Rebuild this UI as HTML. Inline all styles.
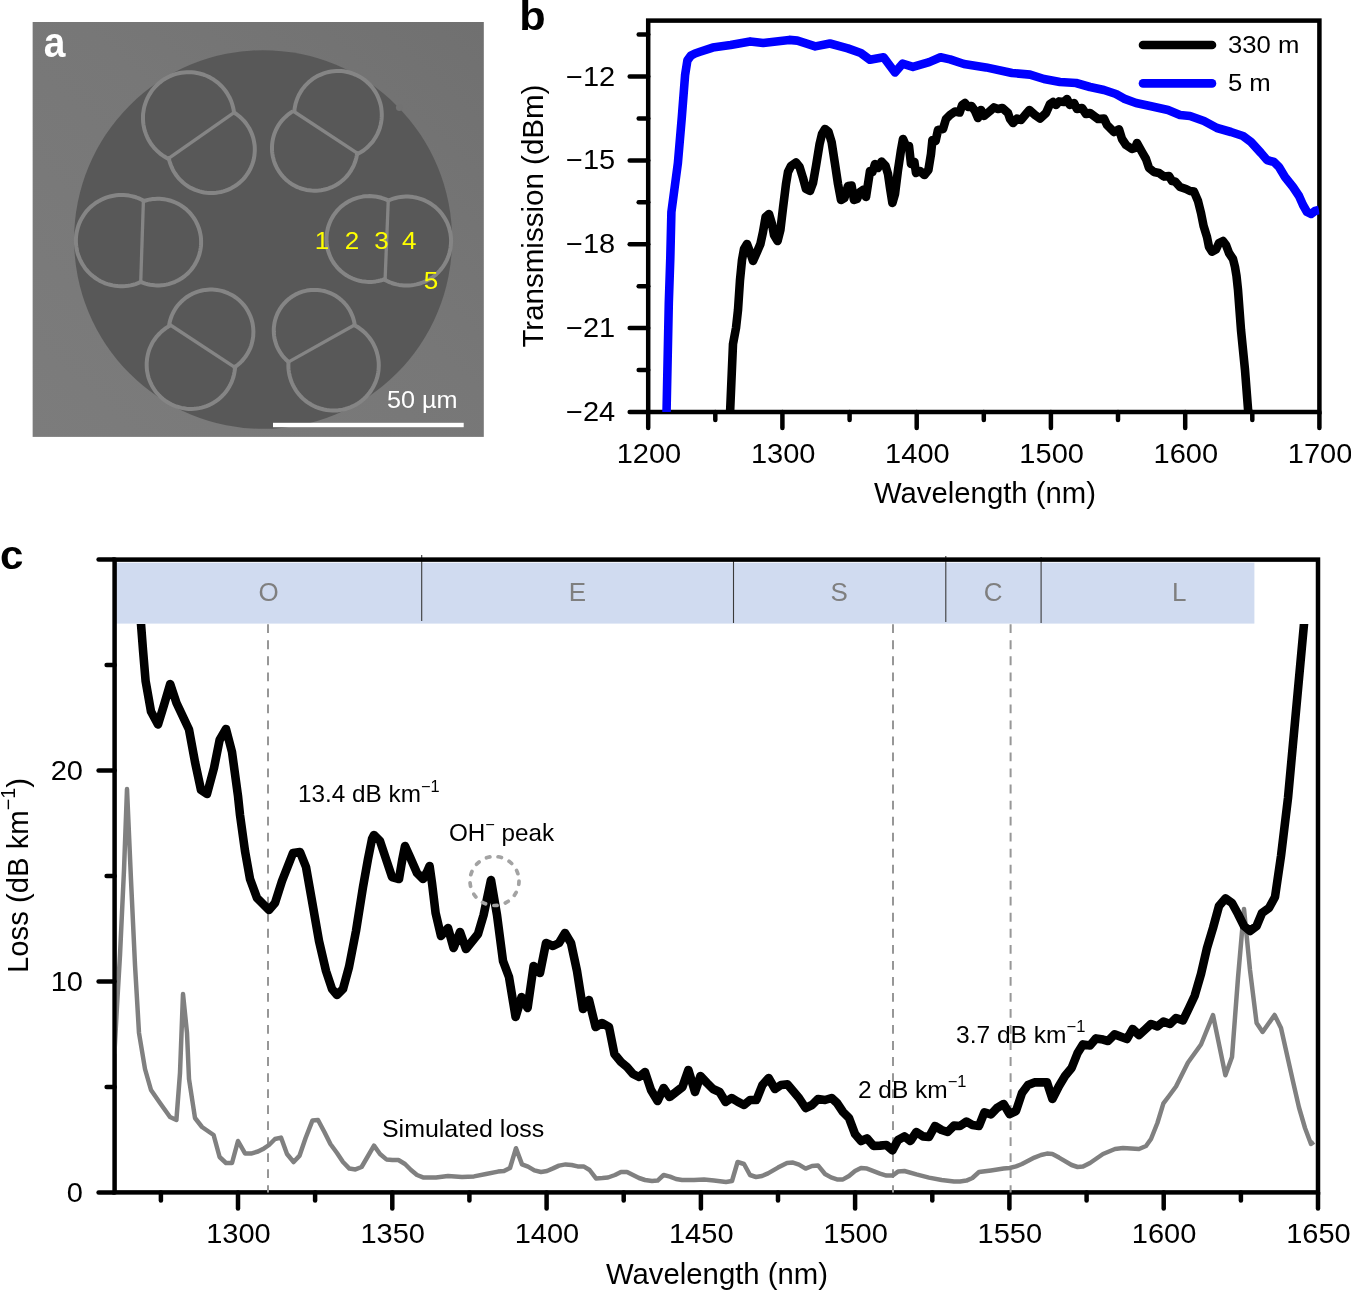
<!DOCTYPE html>
<html lang="en"><head><meta charset="utf-8"><title>Figure</title>
<style>
html,body{margin:0;padding:0;background:#fff;}
svg{display:block;}
text{font-family:"Liberation Sans", sans-serif;}
</style></head><body>
<svg width="1351" height="1291" viewBox="0 0 1351 1291">
<rect x="0" y="0" width="1351" height="1291" fill="#ffffff"/>

<defs><clipPath id="clipA"><rect x="32.4" y="22" width="451.5" height="414.9"/></clipPath>
<clipPath id="clipC"><rect x="116.9" y="624" width="1201.1" height="568.4"/></clipPath>
<clipPath id="clipB"><rect x="648.2" y="20.6" width="671.2" height="391.4"/></clipPath>
<linearGradient id="bgA" x1="0" y1="1" x2="1" y2="0"><stop offset="0" stop-color="#7c7c7c"/><stop offset="0.55" stop-color="#777777"/><stop offset="1" stop-color="#707070"/></linearGradient>
</defs>
<g clip-path="url(#clipA)">
<rect x="32.4" y="22" width="451.5" height="414.9" fill="url(#bgA)"/>
<ellipse cx="263.1" cy="239.5" rx="189" ry="189.3" fill="#585858"/>
<polyline points="169.0,158.1 168.6,158.9 166.3,157.7 164.0,156.3 161.9,154.9 159.8,153.3 157.8,151.6 155.9,149.7 154.1,147.8 152.5,145.8 150.9,143.7 149.5,141.4 148.2,139.2 147.1,136.8 146.1,134.4 145.2,131.9 144.4,129.4 143.9,126.9 143.4,124.3 143.1,121.7 143.0,119.0 143.0,116.4 143.1,113.8 143.5,111.2 143.9,108.6 144.5,106.1 145.3,103.6 146.2,101.1 147.2,98.7 148.4,96.3 149.7,94.1 151.1,91.9 152.6,89.7 154.3,87.7 156.1,85.8 158.0,84.0 160.0,82.3 162.1,80.7 164.3,79.2 166.5,77.9 168.8,76.7 171.2,75.6 173.7,74.7 176.2,73.9 178.7,73.3 181.3,72.8 183.9,72.4 186.5,72.2 189.1,72.2 191.8,72.3 194.4,72.5 197.0,73.0 199.5,73.5 202.1,74.2 204.5,75.0 207.0,76.0 209.3,77.1 211.6,78.4 213.9,79.8 216.0,81.3 218.1,82.9 220.0,84.7 221.9,86.5 223.6,88.5 225.2,90.5 226.8,92.7 228.1,94.9 229.4,97.2 230.5,99.6 231.5,102.0 232.3,104.5 233.0,107.0 233.6,109.6 234.0,112.2 234.7,112.1" fill="none" stroke="#858585" stroke-width="4" stroke-linejoin="round"/>
<polyline points="169.0,158.1 168.8,158.1 169.3,160.5 170.0,162.8 170.8,165.0 171.7,167.2 172.7,169.4 173.8,171.5 175.1,173.5 176.5,175.5 177.9,177.3 179.5,179.1 181.2,180.8 183.0,182.5 184.8,184.0 186.7,185.4 188.7,186.7 190.8,187.9 192.9,188.9 195.1,189.9 197.4,190.7 199.6,191.4 202.0,192.0 204.3,192.5 206.7,192.8 209.0,193.0 211.4,193.0 213.8,193.0 216.2,192.8 218.6,192.4 220.9,192.0 223.2,191.4 225.5,190.7 227.7,189.8 229.9,188.9 232.0,187.8 234.1,186.6 236.1,185.3 238.0,183.9 239.9,182.4 241.6,180.8 243.3,179.1 244.9,177.3 246.3,175.4 247.7,173.4 249.0,171.4 250.1,169.3 251.1,167.1 252.0,164.9 252.8,162.7 253.5,160.4 254.0,158.0 254.4,155.7 254.6,153.3 254.8,150.9 254.8,148.5 254.7,146.1 254.4,143.8 254.0,141.4 253.5,139.1 252.9,136.8 252.1,134.5 251.2,132.3 250.2,130.2 249.1,128.0 247.8,126.0 246.5,124.0 245.0,122.1 243.5,120.3 241.8,118.6 240.1,117.0 238.2,115.5 236.3,114.0 234.3,112.7 234.7,112.1" fill="none" stroke="#858585" stroke-width="4" stroke-linejoin="round"/>
<line x1="169.0" y1="158.1" x2="234.7" y2="112.1" stroke="#858585" stroke-width="3.3"/>
<polyline points="293.1,111.0 294.4,111.1 294.6,108.6 295.1,106.1 295.6,103.6 296.4,101.2 297.2,98.8 298.2,96.5 299.3,94.2 300.6,92.0 301.9,89.9 303.4,87.9 305.0,85.9 306.8,84.1 308.6,82.3 310.5,80.7 312.5,79.1 314.6,77.7 316.8,76.4 319.0,75.3 321.4,74.3 323.7,73.4 326.1,72.6 328.6,72.0 331.1,71.5 333.6,71.2 336.1,71.0 338.6,71.0 341.2,71.1 343.7,71.3 346.2,71.7 348.6,72.3 351.1,73.0 353.5,73.8 355.8,74.8 358.1,75.9 360.3,77.1 362.4,78.4 364.5,79.9 366.5,81.5 368.3,83.2 370.1,85.0 371.8,86.9 373.3,88.9 374.8,91.0 376.1,93.1 377.3,95.4 378.3,97.7 379.2,100.0 380.0,102.4 380.7,104.9 381.2,107.4 381.5,109.9 381.7,112.4 381.8,114.9 381.7,117.4 381.5,120.0 381.1,122.5 380.6,124.9 380.0,127.4 379.2,129.8 378.2,132.1 377.2,134.4 376.0,136.6 374.6,138.8 373.2,140.9 371.6,142.9 369.9,144.7 368.2,146.5 366.3,148.2 364.3,149.8 362.2,151.3 360.1,152.6 357.9,153.8 357.6,153.3" fill="none" stroke="#858585" stroke-width="4" stroke-linejoin="round"/>
<polyline points="293.1,111.0 293.2,111.1 291.1,112.4 289.1,113.8 287.3,115.3 285.5,116.9 283.7,118.6 282.1,120.3 280.6,122.2 279.2,124.2 277.9,126.2 276.8,128.3 275.7,130.5 274.8,132.7 274.0,135.0 273.3,137.3 272.8,139.7 272.4,142.0 272.1,144.4 272.0,146.8 272.0,149.2 272.1,151.7 272.4,154.0 272.8,156.4 273.4,158.8 274.0,161.1 274.8,163.4 275.8,165.6 276.8,167.7 278.0,169.8 279.3,171.9 280.7,173.8 282.2,175.7 283.8,177.5 285.5,179.2 287.3,180.8 289.2,182.3 291.2,183.7 293.3,184.9 295.4,186.1 297.5,187.1 299.8,188.0 302.1,188.8 304.4,189.4 306.7,190.0 309.1,190.3 311.5,190.6 313.9,190.7 316.3,190.7 318.7,190.5 321.1,190.2 323.5,189.8 325.8,189.2 328.1,188.6 330.4,187.7 332.6,186.8 334.8,185.7 336.9,184.5 338.9,183.2 340.8,181.8 342.7,180.3 344.5,178.6 346.2,176.9 347.7,175.1 349.2,173.2 350.6,171.2 351.8,169.1 353.0,167.0 354.0,164.8 354.9,162.6 355.6,160.3 356.3,158.0 356.8,155.6 357.1,153.2 357.6,153.3" fill="none" stroke="#858585" stroke-width="4" stroke-linejoin="round"/>
<line x1="293.1" y1="111.0" x2="357.6" y2="153.3" stroke="#858585" stroke-width="3.3"/>
<polyline points="388.3,199.8 388.6,200.4 390.9,199.5 393.3,198.6 395.7,198.0 398.1,197.4 400.6,197.0 403.1,196.7 405.6,196.6 408.1,196.6 410.7,196.8 413.2,197.1 415.6,197.5 418.1,198.1 420.5,198.8 422.8,199.7 425.2,200.7 427.4,201.8 429.6,203.0 431.7,204.4 433.7,205.8 435.7,207.4 437.5,209.1 439.3,210.9 440.9,212.8 442.5,214.8 443.9,216.9 445.2,219.0 446.4,221.2 447.5,223.5 448.4,225.9 449.2,228.2 449.8,230.7 450.4,233.1 450.7,235.6 451.0,238.1 451.1,240.6 451.0,243.1 450.8,245.6 450.5,248.1 450.0,250.6 449.4,253.0 448.7,255.4 447.8,257.8 446.8,260.1 445.7,262.3 444.4,264.5 443.0,266.6 441.5,268.6 439.9,270.5 438.2,272.4 436.4,274.1 434.5,275.7 432.5,277.3 430.4,278.7 428.2,279.9 426.0,281.1 423.7,282.1 421.3,283.0 418.9,283.8 416.5,284.4 414.0,284.9 411.6,285.3 409.1,285.5 406.5,285.5 404.0,285.5 401.5,285.2 399.0,284.9 396.6,284.4 394.1,283.8 391.8,283.0 389.4,282.1 387.1,281.0 384.9,279.9 385.1,279.5" fill="none" stroke="#858585" stroke-width="4" stroke-linejoin="round"/>
<polyline points="388.3,199.8 388.0,200.4 385.9,199.4 383.7,198.6 381.4,197.8 379.1,197.2 376.8,196.8 374.5,196.4 372.1,196.2 369.8,196.1 367.4,196.2 365.1,196.3 362.7,196.6 360.4,197.1 358.1,197.6 355.8,198.3 353.6,199.1 351.5,200.0 349.3,201.1 347.3,202.2 345.3,203.5 343.4,204.9 341.5,206.3 339.8,207.9 338.1,209.6 336.5,211.4 335.1,213.2 333.7,215.1 332.5,217.1 331.3,219.2 330.3,221.3 329.4,223.5 328.6,225.7 327.9,228.0 327.4,230.3 326.9,232.6 326.7,234.9 326.5,237.3 326.5,239.7 326.6,242.0 326.8,244.4 327.2,246.7 327.6,249.0 328.3,251.3 329.0,253.5 329.9,255.7 330.8,257.9 331.9,260.0 333.1,262.0 334.5,264.0 335.9,265.8 337.4,267.6 339.0,269.3 340.8,271.0 342.6,272.5 344.4,273.9 346.4,275.2 348.4,276.4 350.5,277.5 352.7,278.5 354.9,279.4 357.1,280.1 359.4,280.7 361.7,281.2 364.0,281.6 366.4,281.8 368.7,281.9 371.1,281.9 373.5,281.7 375.8,281.4 378.1,281.0 380.4,280.5 382.7,279.8 384.9,279.0 385.1,279.5" fill="none" stroke="#858585" stroke-width="4" stroke-linejoin="round"/>
<line x1="388.3" y1="199.8" x2="385.1" y2="279.5" stroke="#858585" stroke-width="3.3"/>
<polyline points="355.4,324.5 354.9,325.5 357.2,326.8 359.5,328.3 361.6,329.9 363.7,331.6 365.7,333.5 367.5,335.5 369.2,337.5 370.8,339.7 372.3,342.0 373.6,344.3 374.8,346.8 375.8,349.3 376.7,351.8 377.4,354.4 378.0,357.0 378.4,359.7 378.7,362.4 378.8,365.1 378.7,367.8 378.5,370.5 378.1,373.1 377.6,375.8 376.9,378.4 376.0,380.9 375.0,383.4 373.8,385.9 372.5,388.3 371.1,390.5 369.5,392.7 367.8,394.8 366.0,396.8 364.1,398.7 362.0,400.5 359.9,402.1 357.6,403.6 355.3,405.0 352.9,406.2 350.4,407.3 347.9,408.2 345.3,409.0 342.7,409.6 340.0,410.1 337.4,410.4 334.7,410.5 332.0,410.5 329.3,410.3 326.6,410.0 324.0,409.5 321.3,408.8 318.8,408.0 316.2,407.1 313.8,406.0 311.4,404.7 309.1,403.3 306.9,401.8 304.7,400.1 302.7,398.4 300.8,396.5 299.0,394.4 297.3,392.3 295.8,390.1 294.4,387.8 293.1,385.4 292.0,383.0 291.0,380.5 290.2,377.9 289.5,375.3 289.0,372.6 288.6,370.0 288.4,367.3 288.4,364.6 288.5,361.9 288.7,361.9" fill="none" stroke="#858585" stroke-width="4" stroke-linejoin="round"/>
<polyline points="355.4,324.5 354.7,324.6 354.3,322.4 353.8,320.3 353.2,318.2 352.5,316.1 351.6,314.1 350.7,312.1 349.7,310.2 348.5,308.3 347.3,306.5 345.9,304.8 344.5,303.2 343.0,301.6 341.4,300.1 339.7,298.7 337.9,297.4 336.1,296.1 334.2,295.0 332.3,294.0 330.3,293.1 328.3,292.3 326.2,291.6 324.1,291.0 321.9,290.6 319.8,290.2 317.6,290.0 315.4,289.9 313.2,289.9 311.0,290.0 308.8,290.3 306.7,290.6 304.5,291.1 302.4,291.7 300.4,292.4 298.3,293.2 296.3,294.1 294.4,295.2 292.5,296.3 290.7,297.5 289.0,298.8 287.3,300.3 285.7,301.8 284.2,303.4 282.8,305.0 281.4,306.8 280.2,308.6 279.1,310.5 278.0,312.4 277.1,314.4 276.3,316.4 275.6,318.5 275.0,320.6 274.5,322.7 274.2,324.9 273.9,327.1 273.8,329.2 273.8,331.4 273.9,333.6 274.1,335.8 274.4,338.0 274.9,340.1 275.5,342.2 276.2,344.3 276.9,346.3 277.9,348.3 278.9,350.3 280.0,352.2 281.2,354.0 282.5,355.7 283.9,357.4 285.4,359.0 287.0,360.6 288.6,362.0 288.7,361.9" fill="none" stroke="#858585" stroke-width="4" stroke-linejoin="round"/>
<line x1="355.4" y1="324.5" x2="288.7" y2="361.9" stroke="#858585" stroke-width="3.3"/>
<polyline points="169.6,324.5 170.2,325.6 167.9,326.8 165.8,328.2 163.7,329.8 161.7,331.4 159.9,333.1 158.1,335.0 156.4,336.9 154.9,339.0 153.4,341.1 152.1,343.3 151.0,345.6 149.9,348.0 149.0,350.4 148.3,352.8 147.7,355.3 147.2,357.8 146.9,360.4 146.7,362.9 146.7,365.5 146.8,368.1 147.0,370.6 147.5,373.1 148.0,375.6 148.7,378.1 149.6,380.5 150.6,382.9 151.7,385.2 153.0,387.4 154.3,389.6 155.8,391.7 157.5,393.7 159.2,395.5 161.0,397.3 163.0,399.0 165.0,400.6 167.2,402.0 169.4,403.3 171.6,404.5 174.0,405.6 176.4,406.5 178.8,407.2 181.3,407.9 183.8,408.3 186.4,408.7 188.9,408.9 191.5,408.9 194.1,408.8 196.6,408.5 199.1,408.1 201.7,407.6 204.1,406.9 206.5,406.1 208.9,405.1 211.2,404.0 213.5,402.7 215.6,401.3 217.7,399.9 219.7,398.2 221.6,396.5 223.4,394.7 225.1,392.7 226.7,390.7 228.1,388.6 229.4,386.4 230.6,384.1 231.7,381.8 232.6,379.4 233.4,377.0 234.0,374.5 234.5,371.9 234.9,369.4 235.1,366.8 234.1,366.8" fill="none" stroke="#858585" stroke-width="4" stroke-linejoin="round"/>
<polyline points="169.6,324.5 169.2,324.4 169.7,322.1 170.3,319.9 171.0,317.7 171.8,315.5 172.8,313.4 173.9,311.3 175.1,309.3 176.3,307.4 177.7,305.5 179.2,303.8 180.8,302.1 182.5,300.5 184.3,299.0 186.1,297.5 188.1,296.2 190.1,295.0 192.1,293.9 194.2,293.0 196.4,292.1 198.6,291.4 200.8,290.8 203.1,290.3 205.4,289.9 207.7,289.7 210.0,289.5 212.4,289.6 214.7,289.7 217.0,290.0 219.3,290.4 221.6,290.9 223.8,291.5 226.0,292.3 228.1,293.2 230.2,294.2 232.3,295.3 234.3,296.5 236.2,297.8 238.0,299.3 239.8,300.8 241.4,302.4 243.0,304.1 244.5,305.9 245.9,307.8 247.1,309.8 248.3,311.8 249.3,313.9 250.3,316.0 251.1,318.2 251.8,320.4 252.4,322.6 252.8,324.9 253.1,327.2 253.3,329.5 253.4,331.9 253.3,334.2 253.2,336.5 252.8,338.8 252.4,341.1 251.8,343.4 251.2,345.6 250.4,347.8 249.4,349.9 248.4,352.0 247.2,354.0 246.0,356.0 244.6,357.8 243.1,359.6 241.6,361.4 239.9,363.0 238.2,364.5 236.3,366.0 234.4,367.3 234.1,366.8" fill="none" stroke="#858585" stroke-width="4" stroke-linejoin="round"/>
<line x1="169.6" y1="324.5" x2="234.1" y2="366.8" stroke="#858585" stroke-width="3.3"/>
<polyline points="143.4,200.9 143.5,200.6 141.3,199.5 138.9,198.4 136.5,197.5 134.0,196.7 131.5,196.1 129.0,195.6 126.4,195.2 123.9,195.0 121.3,195.0 118.7,195.1 116.1,195.3 113.6,195.7 111.0,196.2 108.5,196.9 106.1,197.7 103.7,198.6 101.3,199.7 99.1,200.9 96.9,202.2 94.7,203.7 92.7,205.3 90.7,206.9 88.9,208.7 87.1,210.6 85.5,212.6 84.0,214.7 82.6,216.9 81.3,219.1 80.1,221.4 79.1,223.8 78.2,226.2 77.5,228.7 76.9,231.2 76.4,233.7 76.1,236.3 75.9,238.9 75.9,241.5 76.0,244.0 76.3,246.6 76.7,249.2 77.2,251.7 77.9,254.2 78.8,256.6 79.8,259.0 80.9,261.3 82.1,263.6 83.5,265.8 84.9,267.9 86.5,269.9 88.2,271.9 90.1,273.7 92.0,275.4 94.0,277.0 96.1,278.5 98.3,279.9 100.5,281.2 102.9,282.3 105.2,283.3 107.7,284.1 110.2,284.8 112.7,285.4 115.2,285.8 117.8,286.1 120.4,286.3 122.9,286.3 125.5,286.1 128.1,285.8 130.6,285.4 133.1,284.8 135.6,284.1 138.0,283.2 140.4,282.2 140.7,282.8" fill="none" stroke="#858585" stroke-width="4" stroke-linejoin="round"/>
<polyline points="143.4,200.9 143.5,201.2 145.7,200.5 148.0,199.9 150.3,199.4 152.6,199.1 154.9,198.9 157.2,198.8 159.6,198.8 161.9,199.0 164.2,199.2 166.5,199.6 168.8,200.2 171.0,200.8 173.2,201.6 175.4,202.5 177.5,203.5 179.5,204.6 181.5,205.8 183.4,207.1 185.3,208.6 187.0,210.1 188.7,211.7 190.3,213.4 191.8,215.2 193.2,217.1 194.5,219.0 195.7,221.0 196.7,223.1 197.7,225.2 198.6,227.4 199.3,229.6 199.9,231.8 200.4,234.1 200.8,236.4 201.0,238.7 201.1,241.1 201.1,243.4 201.0,245.7 200.7,248.0 200.3,250.3 199.8,252.6 199.2,254.9 198.4,257.1 197.6,259.2 196.6,261.3 195.5,263.4 194.3,265.4 193.0,267.3 191.6,269.2 190.1,271.0 188.5,272.7 186.8,274.3 185.0,275.8 183.2,277.2 181.2,278.5 179.2,279.7 177.2,280.8 175.1,281.8 172.9,282.7 170.7,283.4 168.5,284.1 166.2,284.6 163.9,285.0 161.6,285.2 159.2,285.4 156.9,285.4 154.6,285.3 152.3,285.0 150.0,284.7 147.7,284.2 145.4,283.6 143.2,282.8 141.0,282.0 140.7,282.8" fill="none" stroke="#858585" stroke-width="4" stroke-linejoin="round"/>
<line x1="143.4" y1="200.9" x2="140.7" y2="282.8" stroke="#858585" stroke-width="3.3"/>
<circle cx="399.3" cy="107.6" r="3.4" fill="#727272"/>
</g>
<text transform="translate(43.87,56.60) scale(0.9261,1)" font-size="42" font-weight="bold" fill="#fff">a</text>
<text transform="translate(322.00,248.50) scale(1.05,1)" text-anchor="middle" font-size="24.8" fill="#ffff00">1</text>
<text transform="translate(351.90,248.50) scale(1.05,1)" text-anchor="middle" font-size="24.8" fill="#ffff00">2</text>
<text transform="translate(381.45,248.50) scale(1.05,1)" text-anchor="middle" font-size="24.8" fill="#ffff00">3</text>
<text transform="translate(409.20,248.50) scale(1.05,1)" text-anchor="middle" font-size="24.8" fill="#ffff00">4</text>
<text transform="translate(431.00,289.30) scale(1.05,1)" text-anchor="middle" font-size="24.8" fill="#ffff00">5</text>
<text transform="translate(386.97,407.80) scale(1.0303,1)" font-size="24.5" fill="#fff">50 µm</text>
<rect x="273" y="422.8" width="190.7" height="4.4" fill="#ffffff"/>
<g stroke="#000" stroke-width="4.5" fill="none" stroke-linecap="round">
<line x1="648.2" y1="412" x2="648.2" y2="428"/>
<line x1="782.4" y1="412" x2="782.4" y2="428"/>
<line x1="916.7" y1="412" x2="916.7" y2="428"/>
<line x1="1050.9" y1="412" x2="1050.9" y2="428"/>
<line x1="1185.2" y1="412" x2="1185.2" y2="428"/>
<line x1="1319.4" y1="412" x2="1319.4" y2="428"/>
<line x1="715.3" y1="412" x2="715.3" y2="420"/>
<line x1="849.6" y1="412" x2="849.6" y2="420"/>
<line x1="983.8" y1="412" x2="983.8" y2="420"/>
<line x1="1118.0" y1="412" x2="1118.0" y2="420"/>
<line x1="1252.3" y1="412" x2="1252.3" y2="420"/>
<line x1="648.2" y1="76.5" x2="629.7" y2="76.5"/>
<line x1="648.2" y1="160.4" x2="629.7" y2="160.4"/>
<line x1="648.2" y1="244.3" x2="629.7" y2="244.3"/>
<line x1="648.2" y1="328.1" x2="629.7" y2="328.1"/>
<line x1="648.2" y1="412.0" x2="629.7" y2="412.0"/>
<line x1="648.2" y1="34.6" x2="638.7" y2="34.6"/>
<line x1="648.2" y1="118.4" x2="638.7" y2="118.4"/>
<line x1="648.2" y1="202.3" x2="638.7" y2="202.3"/>
<line x1="648.2" y1="286.2" x2="638.7" y2="286.2"/>
<line x1="648.2" y1="370.1" x2="638.7" y2="370.1"/>
</g>
<rect x="648.2" y="20.6" width="671.2" height="391.4" fill="none" stroke="#000" stroke-width="4.5" stroke-linejoin="miter"/>
<g clip-path="url(#clipB)">
<polyline points="730.0,414.0 733.0,344.0 736.0,328.0 738.0,310.0 740.0,280.0 742.0,260.0 744.0,249.0 747.0,244.0 750.0,252.0 753.0,261.0 757.0,252.0 760.4,244.0 763.0,232.0 765.6,217.0 769.0,214.0 772.0,224.0 774.0,235.0 777.6,241.0 780.4,230.0 783.0,208.0 786.0,184.0 788.0,172.0 791.0,166.0 796.0,162.4 799.6,167.0 803.0,178.0 806.0,189.0 810.0,191.0 813.0,183.0 816.0,166.0 819.6,144.0 822.0,134.0 825.0,129.0 828.4,131.6 831.6,142.0 835.0,164.0 838.0,184.0 841.0,200.0 844.4,198.0 848.0,186.0 851.6,185.6 854.0,200.0 857.0,199.0 860.0,192.0 863.6,189.6 866.0,197.0 868.0,184.0 870.0,171.0 872.4,172.0 875.0,164.0 878.0,168.0 881.6,161.6 885.6,166.0 888.0,174.0 890.0,188.0 892.4,203.0 895.0,194.0 898.0,170.0 901.0,150.0 903.0,139.0 906.0,146.0 909.0,146.0 911.0,164.0 914.4,162.0 916.0,173.0 920.0,171.0 924.4,175.0 928.4,170.0 931.0,154.0 932.4,140.0 935.6,141.0 938.0,130.0 943.0,129.0 946.0,119.0 950.0,115.0 955.0,111.5 959.6,112.5 962.2,105.0 965.0,103.0 968.0,107.0 971.5,106.0 975.0,111.0 978.0,118.0 981.0,110.0 984.0,116.0 990.0,111.0 994.0,107.4 998.0,109.0 1002.4,108.0 1008.0,113.0 1010.0,119.0 1013.0,123.0 1017.0,118.6 1021.0,120.0 1026.0,114.0 1029.4,110.0 1035.0,115.0 1040.0,118.6 1046.0,113.0 1050.0,104.0 1053.0,102.0 1056.0,105.0 1059.0,101.4 1064.0,102.0 1067.0,99.0 1070.0,105.0 1074.0,103.0 1077.0,109.0 1082.0,108.0 1086.0,114.0 1090.0,113.0 1098.0,119.0 1104.0,118.6 1107.0,125.0 1114.0,132.0 1119.0,129.4 1122.0,139.0 1126.0,145.0 1132.0,149.0 1135.0,148.0 1137.0,143.0 1142.0,152.0 1146.0,159.0 1149.0,168.0 1154.0,172.0 1159.0,173.0 1164.0,176.6 1169.0,176.0 1172.0,181.0 1175.0,181.4 1180.0,187.0 1186.0,189.0 1190.0,191.0 1194.0,191.6 1198.0,201.0 1201.0,213.0 1203.6,226.0 1207.0,237.0 1209.0,247.0 1212.0,251.6 1216.0,249.5 1219.0,243.0 1223.0,241.0 1226.0,245.0 1229.0,253.0 1233.0,259.0 1235.0,267.0 1236.5,276.0 1238.0,290.0 1241.0,330.0 1245.0,370.0 1248.4,414.0" fill="none" stroke="#000" stroke-width="8.6" stroke-linejoin="round" stroke-linecap="butt"/>
<polyline points="666.5,414.0 668.8,303.0 670.3,258.0 671.4,212.0 677.9,163.0 681.8,117.4 685.1,75.0 687.4,60.4 690.9,55.6 695.0,53.5 700.0,51.8 712.7,47.6 730.6,45.1 750.2,41.4 763.2,42.9 789.2,39.9 797.4,40.6 815.3,46.4 829.9,43.5 847.8,48.4 860.8,53.0 869.9,59.8 883.6,57.2 895.0,72.5 902.5,63.7 912.9,66.9 929.2,62.1 940.5,57.2 950.0,59.4 964.0,64.0 986.0,67.4 1012.0,73.0 1030.0,74.6 1044.0,79.0 1060.0,82.0 1076.0,83.0 1090.0,87.0 1104.0,90.0 1116.0,94.0 1124.0,98.6 1136.0,103.0 1150.0,106.0 1168.0,110.0 1180.0,115.0 1190.0,116.0 1204.0,121.0 1217.0,128.0 1231.0,132.0 1243.0,136.0 1251.0,142.0 1261.0,153.0 1267.0,160.0 1274.0,162.0 1279.0,167.0 1285.0,177.0 1293.0,187.0 1299.0,196.0 1303.0,205.0 1307.0,212.0 1311.0,214.0 1315.0,211.0 1319.0,210.0" fill="none" stroke="#0000ff" stroke-width="8.6" stroke-linejoin="round" stroke-linecap="butt"/>
</g>
<text transform="translate(648.90,463.00) scale(1.075,1)" text-anchor="middle" font-size="27.0">1200</text>
<text transform="translate(783.14,463.00) scale(1.075,1)" text-anchor="middle" font-size="27.0">1300</text>
<text transform="translate(917.38,463.00) scale(1.075,1)" text-anchor="middle" font-size="27.0">1400</text>
<text transform="translate(1051.62,463.00) scale(1.075,1)" text-anchor="middle" font-size="27.0">1500</text>
<text transform="translate(1185.86,463.00) scale(1.075,1)" text-anchor="middle" font-size="27.0">1600</text>
<text transform="translate(1320.10,463.00) scale(1.075,1)" text-anchor="middle" font-size="27.0">1700</text>
<text transform="translate(615.20,85.51) scale(1.075,1)" text-anchor="end" font-size="27.0">−12</text>
<text transform="translate(615.20,169.39) scale(1.075,1)" text-anchor="end" font-size="27.0">−15</text>
<text transform="translate(615.20,253.26) scale(1.075,1)" text-anchor="end" font-size="27.0">−18</text>
<text transform="translate(615.20,337.13) scale(1.075,1)" text-anchor="end" font-size="27.0">−21</text>
<text transform="translate(615.20,421.00) scale(1.075,1)" text-anchor="end" font-size="27.0">−24</text>
<text transform="translate(874.00,503.00) scale(1.0000,1)" font-size="29.3">Wavelength (nm)</text>
<text transform="translate(543.00,347.61) rotate(-90) scale(1.0081,1)" font-size="29.3">Transmission (dBm)</text>
<text transform="translate(519.16,30.00) scale(1.0800,1)" font-size="40" font-weight="bold">b</text>
<line x1="1143" y1="45" x2="1212" y2="45" stroke="#000" stroke-width="8.6" stroke-linecap="round"/>
<line x1="1143" y1="83.4" x2="1212" y2="83.4" stroke="#0000ff" stroke-width="8.6" stroke-linecap="round"/>
<text transform="translate(1227.92,52.60) scale(1.0794,1)" font-size="23.8">330 m</text>
<text transform="translate(1227.92,91.00) scale(1.0811,1)" font-size="23.8">5 m</text>
<rect x="115" y="562.7" width="1139.4" height="60.9" fill="#d0dbf0"/>
<line x1="421.7" y1="555" x2="421.7" y2="621" stroke="#3a3a3a" stroke-width="1.1"/>
<line x1="733.5" y1="558" x2="733.5" y2="623" stroke="#3a3a3a" stroke-width="1.1"/>
<line x1="945.8" y1="556" x2="945.8" y2="622" stroke="#3a3a3a" stroke-width="1.1"/>
<line x1="1041.1" y1="557" x2="1041.1" y2="623" stroke="#3a3a3a" stroke-width="1.1"/>
<text transform="translate(268.50,601.30) scale(1.03,1)" text-anchor="middle" font-size="25.2" fill="#7f7f7f">O</text>
<text transform="translate(577.30,601.30) scale(1.03,1)" text-anchor="middle" font-size="25.2" fill="#7f7f7f">E</text>
<text transform="translate(839.20,601.30) scale(1.03,1)" text-anchor="middle" font-size="25.2" fill="#7f7f7f">S</text>
<text transform="translate(993.20,601.30) scale(1.03,1)" text-anchor="middle" font-size="25.2" fill="#7f7f7f">C</text>
<text transform="translate(1179.20,601.30) scale(1.03,1)" text-anchor="middle" font-size="25.2" fill="#7f7f7f">L</text>
<g stroke="#000" stroke-width="4.5" fill="none" stroke-linecap="round">
<line x1="238.0" y1="1192.4" x2="238.0" y2="1208.4"/>
<line x1="392.3" y1="1192.4" x2="392.3" y2="1208.4"/>
<line x1="546.6" y1="1192.4" x2="546.6" y2="1208.4"/>
<line x1="700.9" y1="1192.4" x2="700.9" y2="1208.4"/>
<line x1="855.1" y1="1192.4" x2="855.1" y2="1208.4"/>
<line x1="1009.4" y1="1192.4" x2="1009.4" y2="1208.4"/>
<line x1="1163.7" y1="1192.4" x2="1163.7" y2="1208.4"/>
<line x1="1318.0" y1="1192.4" x2="1318.0" y2="1208.4"/>
<line x1="160.9" y1="1192.4" x2="160.9" y2="1200.4"/>
<line x1="315.1" y1="1192.4" x2="315.1" y2="1200.4"/>
<line x1="469.4" y1="1192.4" x2="469.4" y2="1200.4"/>
<line x1="623.7" y1="1192.4" x2="623.7" y2="1200.4"/>
<line x1="778.0" y1="1192.4" x2="778.0" y2="1200.4"/>
<line x1="932.3" y1="1192.4" x2="932.3" y2="1200.4"/>
<line x1="1086.6" y1="1192.4" x2="1086.6" y2="1200.4"/>
<line x1="1240.9" y1="1192.4" x2="1240.9" y2="1200.4"/>
<line x1="114.6" y1="1192.4" x2="98.6" y2="1192.4"/>
<line x1="114.6" y1="981.5" x2="98.6" y2="981.5"/>
<line x1="114.6" y1="770.5" x2="98.6" y2="770.5"/>
<line x1="114.6" y1="559.6" x2="98.6" y2="559.6"/>
<line x1="114.6" y1="1086.9" x2="106.6" y2="1086.9"/>
<line x1="114.6" y1="876.0" x2="106.6" y2="876.0"/>
<line x1="114.6" y1="665.1" x2="106.6" y2="665.1"/>
</g>
<rect x="114.6" y="559.6" width="1203.4" height="632.8" fill="none" stroke="#000" stroke-width="4.5"/>
<line x1="268.0" y1="624.3" x2="268.0" y2="1192.4" stroke="#979797" stroke-width="2" stroke-dasharray="8.8 7.23"/>
<line x1="893.0" y1="624.3" x2="893.0" y2="1192.4" stroke="#979797" stroke-width="2" stroke-dasharray="8.8 7.23"/>
<line x1="1010.6" y1="624.3" x2="1010.6" y2="1192.4" stroke="#979797" stroke-width="2" stroke-dasharray="8.8 7.23"/>
<g clip-path="url(#clipC)">
<polyline points="114.4,1054.0 117.0,1006.0 120.0,955.0 124.0,870.0 127.0,789.0 131.0,880.0 135.0,965.0 139.0,1033.0 145.0,1069.0 151.0,1090.0 160.0,1103.0 170.0,1117.0 176.4,1120.0 180.0,1073.0 183.0,994.0 187.0,1033.0 189.0,1079.0 195.0,1118.0 202.0,1127.0 213.6,1135.0 219.6,1157.0 226.0,1163.0 232.0,1163.0 238.0,1141.0 245.0,1153.4 251.0,1153.6 258.0,1151.5 264.0,1148.4 269.0,1145.0 275.0,1139.0 281.0,1137.6 287.0,1154.0 293.6,1162.0 299.6,1155.6 305.6,1138.0 312.4,1120.6 318.0,1120.0 324.4,1132.0 330.4,1144.0 337.0,1153.0 343.0,1162.0 349.4,1168.6 355.4,1169.4 361.6,1167.0 368.0,1156.0 374.0,1145.6 380.0,1154.0 386.4,1159.4 392.4,1160.0 398.4,1160.0 405.0,1164.0 411.0,1170.0 417.0,1175.0 423.0,1177.4 436.0,1177.4 448.0,1176.0 462.0,1177.0 474.0,1176.4 486.0,1174.0 498.0,1171.6 504.0,1171.0 510.0,1168.0 516.0,1148.2 522.0,1164.4 528.0,1166.6 534.4,1170.4 541.0,1172.0 547.0,1171.0 553.0,1168.4 559.0,1165.6 565.6,1164.4 571.6,1165.0 577.6,1166.4 583.6,1166.4 589.6,1170.0 596.0,1178.4 602.4,1178.0 608.0,1177.5 615.0,1175.0 621.0,1172.0 627.0,1172.0 633.0,1175.0 639.0,1178.0 645.0,1180.0 652.0,1181.0 657.6,1180.6 663.6,1175.0 670.0,1176.6 676.0,1179.0 682.0,1180.0 694.0,1180.0 704.0,1179.4 714.0,1180.6 726.0,1182.0 732.0,1181.0 737.6,1162.0 744.0,1164.0 750.0,1175.0 756.0,1177.0 762.0,1176.0 768.0,1173.4 778.0,1167.6 787.0,1163.0 793.0,1162.6 799.0,1164.6 805.6,1168.6 812.0,1166.0 818.0,1165.4 825.0,1174.0 831.0,1177.4 837.0,1179.4 843.0,1179.4 849.0,1176.0 855.0,1171.0 861.0,1168.0 867.0,1168.6 880.0,1173.6 886.4,1175.6 892.4,1175.6 898.0,1171.6 904.4,1171.0 916.4,1174.4 929.0,1177.6 941.6,1180.0 954.0,1181.4 960.0,1181.4 966.4,1180.6 972.4,1178.0 979.0,1172.0 991.0,1170.4 1003.6,1168.6 1009.6,1168.0 1016.0,1166.4 1022.0,1164.0 1034.4,1157.6 1041.0,1155.0 1047.0,1153.6 1052.4,1154.0 1059.0,1157.6 1071.6,1165.0 1077.6,1167.0 1083.0,1166.6 1090.0,1163.0 1103.0,1154.0 1115.0,1149.0 1123.0,1148.0 1139.0,1149.0 1146.0,1146.0 1151.0,1139.0 1157.4,1123.0 1163.4,1103.4 1169.0,1096.0 1176.0,1086.5 1188.0,1062.5 1201.0,1044.5 1213.0,1015.0 1225.4,1075.2 1232.0,1057.0 1238.0,978.0 1244.0,909.0 1250.0,970.0 1256.6,1023.0 1262.6,1032.0 1274.6,1015.0 1281.0,1028.0 1293.0,1081.5 1299.0,1107.5 1305.0,1128.0 1311.0,1144.0 1314.0,1142.0" fill="none" stroke="#808080" stroke-width="4.5" stroke-linejoin="round"/>
<polyline points="138.5,590.0 141.0,624.0 143.0,650.0 145.6,681.0 151.0,711.5 158.0,724.5 164.0,705.0 170.2,684.0 176.5,703.0 189.0,729.5 195.0,762.0 201.0,790.0 207.0,794.0 214.0,768.0 219.6,740.0 226.0,729.0 232.0,752.0 238.0,796.0 240.0,815.0 245.0,851.0 250.0,879.0 257.0,898.0 269.0,910.0 275.0,903.0 282.0,881.0 293.0,853.0 300.0,852.0 306.0,867.0 312.0,901.0 319.0,941.0 326.0,971.0 332.0,989.0 337.0,995.0 343.0,989.0 349.0,967.0 356.0,931.0 363.0,887.0 368.0,859.0 372.0,839.0 374.0,835.0 380.0,841.0 386.0,859.0 392.0,877.0 399.0,879.0 402.4,859.0 405.0,846.0 410.0,857.0 417.0,873.0 423.0,879.0 427.0,872.0 429.6,866.0 432.0,883.0 435.6,913.0 441.0,936.0 448.0,928.0 453.6,948.0 460.0,932.0 466.0,949.0 478.0,934.0 483.6,915.0 491.0,880.0 497.0,915.0 503.0,961.0 509.0,977.0 515.6,1017.0 521.6,997.0 527.6,1008.0 533.6,966.0 540.0,973.0 546.0,943.0 553.0,946.0 559.0,943.0 565.0,933.0 571.0,943.0 577.0,971.0 583.0,1009.0 589.0,1000.0 595.6,1027.0 602.0,1023.0 609.0,1027.0 614.4,1054.0 621.0,1062.0 627.0,1067.0 633.0,1074.0 639.0,1077.0 645.0,1072.0 651.0,1090.0 657.6,1101.0 663.6,1088.0 669.6,1097.0 676.0,1092.0 682.4,1087.0 688.4,1070.0 695.0,1092.0 700.4,1076.0 707.0,1083.0 713.0,1089.0 719.6,1092.0 725.6,1102.0 731.6,1098.0 737.6,1101.6 744.0,1105.0 750.0,1100.0 756.4,1100.0 762.4,1085.0 768.6,1078.0 775.0,1089.0 781.0,1085.0 787.6,1084.4 799.0,1098.0 805.6,1108.0 812.0,1105.0 818.0,1099.0 825.0,1100.0 831.6,1098.0 837.0,1103.0 843.0,1112.0 849.0,1118.0 855.0,1134.0 861.0,1141.0 867.0,1138.4 873.6,1146.0 880.0,1145.6 886.4,1145.0 892.4,1150.4 898.0,1140.0 904.4,1136.4 910.4,1141.0 916.4,1132.0 923.0,1136.4 929.0,1137.0 935.0,1126.0 941.6,1130.0 947.6,1132.0 954.0,1125.6 960.0,1126.0 966.4,1121.6 972.4,1125.0 979.0,1126.0 984.4,1112.4 991.0,1114.4 997.0,1108.0 1003.6,1104.0 1009.6,1114.0 1016.0,1111.0 1022.0,1093.0 1028.0,1085.0 1034.4,1082.4 1047.0,1082.4 1052.4,1099.0 1059.0,1086.0 1065.0,1076.0 1071.6,1068.0 1077.6,1053.0 1083.0,1044.4 1090.0,1045.5 1096.0,1038.4 1103.0,1039.6 1108.0,1041.0 1114.6,1034.4 1127.0,1039.0 1132.6,1029.0 1139.0,1035.0 1145.0,1029.6 1151.0,1024.0 1157.4,1026.4 1163.4,1021.6 1170.0,1024.0 1176.0,1018.0 1183.0,1020.4 1189.0,1008.0 1194.6,996.0 1201.0,974.0 1207.0,948.0 1213.0,928.0 1219.0,906.0 1225.4,898.4 1232.0,903.0 1238.0,914.0 1244.0,926.0 1250.0,931.0 1256.6,926.0 1262.0,913.0 1269.0,908.0 1275.0,897.0 1281.0,856.0 1288.0,798.0 1304.0,624.0 1307.0,590.0" fill="none" stroke="#000" stroke-width="8.6" stroke-linejoin="round"/>
</g>
<circle cx="494.5" cy="881" r="24.5" fill="none" stroke="#a3a3a3" stroke-width="3.7" stroke-dasharray="3.4 8.44" stroke-linecap="round"/>
<text transform="translate(238.40,1243.00) scale(1.075,1)" text-anchor="middle" font-size="27.0">1300</text>
<text transform="translate(392.68,1243.00) scale(1.075,1)" text-anchor="middle" font-size="27.0">1350</text>
<text transform="translate(546.97,1243.00) scale(1.075,1)" text-anchor="middle" font-size="27.0">1400</text>
<text transform="translate(701.25,1243.00) scale(1.075,1)" text-anchor="middle" font-size="27.0">1450</text>
<text transform="translate(855.54,1243.00) scale(1.075,1)" text-anchor="middle" font-size="27.0">1500</text>
<text transform="translate(1009.83,1243.00) scale(1.075,1)" text-anchor="middle" font-size="27.0">1550</text>
<text transform="translate(1164.11,1243.00) scale(1.075,1)" text-anchor="middle" font-size="27.0">1600</text>
<text transform="translate(1318.40,1243.00) scale(1.075,1)" text-anchor="middle" font-size="27.0">1650</text>
<text transform="translate(83.00,1201.70) scale(1.075,1)" text-anchor="end" font-size="27.0">0</text>
<text transform="translate(83.00,990.77) scale(1.075,1)" text-anchor="end" font-size="27.0">10</text>
<text transform="translate(83.00,779.83) scale(1.075,1)" text-anchor="end" font-size="27.0">20</text>
<text transform="translate(606.00,1284.00) scale(1.0000,1)" font-size="29.3">Wavelength (nm)</text>
<text transform="translate(27.60,972.99) rotate(-90) scale(0.9927,1)" font-size="29.5">Loss (dB km<tspan font-size="20" dy="-12.5">−1</tspan><tspan dy="12.5">)</tspan></text>
<text transform="translate(-0.11,569.00) scale(1.0526,1)" font-size="40" font-weight="bold">c</text>
<text transform="translate(297.96,802.40) scale(1.0221,1)" font-size="23.8">13.4 dB km<tspan font-size="16" dy="-10.8">−1</tspan></text>
<text transform="translate(857.97,1098.00) scale(1.0288,1)" font-size="23.8">2 dB km<tspan font-size="16" dy="-10.8">−1</tspan></text>
<text transform="translate(955.97,1042.60) scale(1.0323,1)" font-size="23.8">3.7 dB km<tspan font-size="16" dy="-10.8">−1</tspan></text>
<text transform="translate(448.98,841.00) scale(1.0196,1)" font-size="23.8">OH<tspan font-size="16" dy="-10.8">−</tspan><tspan dy="10.8"> peak</tspan></text>
<text transform="translate(381.95,1136.60) scale(1.0497,1)" font-size="23.8">Simulated loss</text>
</svg></body></html>
